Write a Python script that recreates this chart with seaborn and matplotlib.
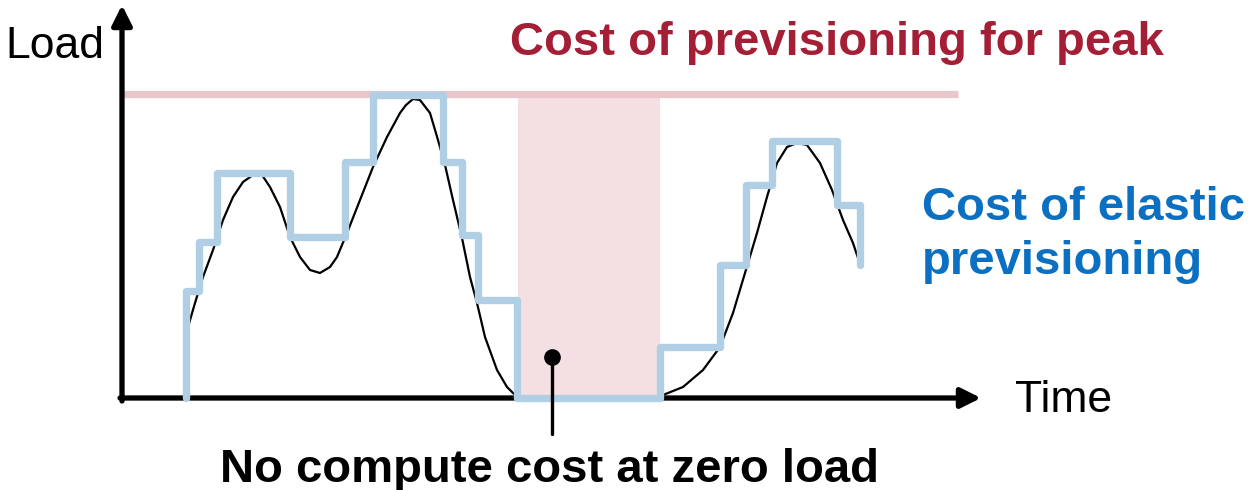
import pandas as pd
import matplotlib
matplotlib.use("Agg")
import matplotlib.pyplot as plt
import seaborn as sns

load_time = [188, 195, 203, 213, 223, 233, 243, 253, 262, 270, 280, 290, 300, 310, 320, 330,
             337, 347, 360, 373, 387, 400, 406, 413, 420, 430, 438, 445, 453, 462, 470, 477,
             485, 497, 507, 513, 519, 590, 655, 663, 683, 703, 720, 733, 745, 757, 767, 777,
             787, 797, 807, 820, 832, 843, 853, 858]
load_value = [71, 95, 121, 148, 178, 201, 216, 223, 223, 211, 191, 161, 141, 128, 125, 131,
              141, 165, 198, 231, 261, 285, 293, 299, 298, 285, 258, 233, 198, 160, 121, 95,
              61, 28, 11, 5, 0, 0, 0, 3, 11, 28, 51, 85, 125, 165, 201, 235,
              251, 255, 253, 235, 208, 178, 155, 140]

# elastic provisioning: capacity changes at these times
step_time = [186, 186, 199, 217, 290, 345, 373, 443, 462, 478, 517, 660, 720, 746, 772, 837, 860]
step_value = [0, 107, 156, 225, 161, 236, 303, 236, 163, 98, 0, 51, 133, 213, 257, 193, 133]

peak_load = 304
idle_start, idle_end = 518, 660

curve = pd.DataFrame({"Time": load_time, "Load": load_value})
steps = pd.DataFrame({"Time": step_time, "Load": step_value})

sns.set_theme(style="white")
plt.rcParams["font.family"] = ["Liberation Sans", "DejaVu Sans"]

fig = plt.figure(figsize=(12.48, 4.9), dpi=100)
ax = fig.add_axes([0, 0, 1, 1])
ax.set_xlim(0, 1248)
ax.set_ylim(-92, 398)
ax.axis("off")

# idle period shading and the peak provisioning line
ax.fill_between([idle_start, idle_end], 0, peak_load - 4, color="#f4dfe2", lw=0, zorder=1)
ax.plot([122, 958], [peak_load, peak_load], color="#e9c5cc", lw=5.2, solid_capstyle="butt", zorder=2)

# axes with arrow heads
arrow = dict(arrowstyle="-|>,head_length=0.6,head_width=0.3", lw=3.8,
             color="black", shrinkA=0, shrinkB=0, mutation_scale=20)
ax.annotate("", xy=(122, 393), xytext=(122, -3), arrowprops=arrow, zorder=3)
ax.annotate("", xy=(981, 0), xytext=(120, 0), arrowprops=arrow, zorder=3)

sns.lineplot(data=curve, x="Time", y="Load", color="black", lw=1.6, sort=False,
             estimator=None, ax=ax, zorder=4)
sns.lineplot(data=steps, x="Time", y="Load", color="#b1cfe4", lw=5.3, sort=False,
             estimator=None, drawstyle="steps-post", solid_capstyle="round",
             solid_joinstyle="round", ax=ax, zorder=5)

# pointer to the idle period
ax.plot([552, 552], [41, -36], color="black", lw=2.4, zorder=6)
ax.plot([552], [41], "o", color="black", ms=11, zorder=6)

ax.text(5, 340, "Load", fontsize=32, color="black", va="baseline", ha="left")
ax.text(1015, -14, "Time", fontsize=32, color="black", va="baseline", ha="left")
ax.text(510, 343, "Cost of previsioning for peak", fontsize=34, fontweight="bold",
        color="#a41e36", va="baseline", ha="left")
ax.text(922, 178, "Cost of elastic", fontsize=34, fontweight="bold",
        color="#0b70c2", va="baseline", ha="left")
ax.text(922, 124, "previsioning", fontsize=34, fontweight="bold",
        color="#0b70c2", va="baseline", ha="left")
ax.text(549, -84, "No compute cost at zero load", fontsize=34, fontweight="bold",
        color="black", va="baseline", ha="center")

ax.set_xlabel("")
ax.set_ylabel("")
fig.savefig("out.png", dpi=100)
